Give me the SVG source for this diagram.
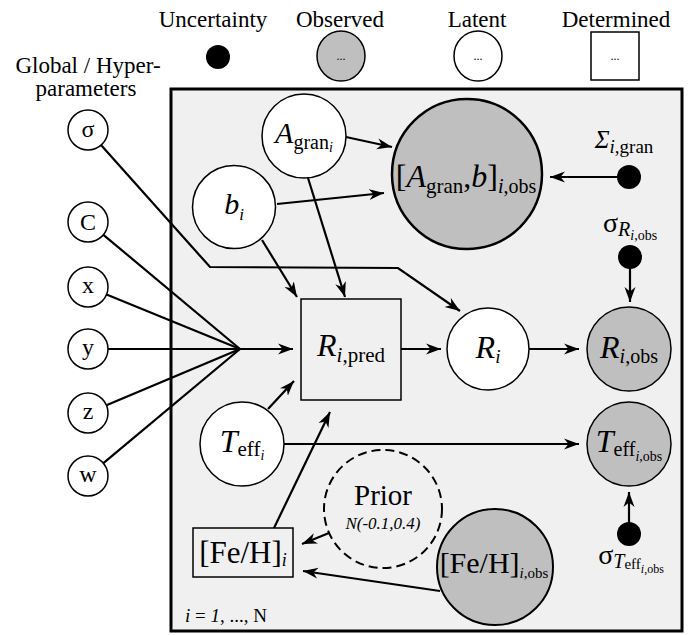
<svg xmlns="http://www.w3.org/2000/svg" width="692" height="635" viewBox="0 0 692 635" font-family="'Liberation Serif', 'DejaVu Serif', serif">
<defs>
<marker id="ah" markerUnits="userSpaceOnUse" markerWidth="16" markerHeight="12" refX="15" refY="6" orient="auto">
<path d="M0,0.5 L15,6 L0,11.5 L4.5,6 z" fill="#000"/>
</marker>
</defs>
<style>
text{font-family:'Liberation Serif','DejaVu Serif',serif;fill:#000}
.lat{fill:#fff;stroke:#000;stroke-width:1.5}
.obs{fill:#bfbfbf;stroke:#000;stroke-width:2}
.det{fill:#f0f0f0;stroke:#000;stroke-width:1.5}
.dot{fill:#000}
.c{fill:none;stroke:#000;stroke-width:2.2}
.a{marker-end:url(#ah)}
.it{font-style:italic}
.lg{font-size:23px}
.hp{font-size:24px}
</style>

<g id="legend">
<text class="lg" x="213" y="27" text-anchor="middle">Uncertainty</text>
<text class="lg" x="340" y="27" text-anchor="middle">Observed</text>
<text class="lg" x="477" y="27" text-anchor="middle">Latent</text>
<text class="lg" x="616" y="27" text-anchor="middle">Determined</text>
<circle class="dot" cx="218" cy="57" r="12"/>
<ellipse class="obs" style="stroke-width:1.5" cx="341" cy="56" rx="24" ry="25"/>
<text x="341" y="60" font-size="12" text-anchor="middle">...</text>
<ellipse class="lat" cx="478" cy="56" rx="24" ry="25"/>
<text x="478" y="60" font-size="12" text-anchor="middle">...</text>
<rect x="591" y="32" width="48" height="48" fill="#fff" stroke="#000" stroke-width="1.5"/>
<text x="615" y="60" font-size="12" text-anchor="middle">...</text>
<text class="lg" x="88" y="73" text-anchor="middle">Global / Hyper-</text>
<text class="lg" x="86" y="96" text-anchor="middle">parameters</text>
</g>

<rect id="plate" x="171" y="89" width="511" height="542" fill="#f0f0f0" stroke="#000" stroke-width="3"/>

<g id="connectors">
<polyline class="c a" points="101,145 210,267 398,268 460,311"/>
<line class="c" x1="103.4" y1="234.8" x2="240" y2="349"/>
<line class="c" x1="106.5" y1="294.6" x2="240" y2="349"/>
<line class="c" x1="108" y1="349" x2="240" y2="349"/>
<line class="c" x1="106.4" y1="405.2" x2="240" y2="349"/>
<line class="c" x1="103.4" y1="463.2" x2="240" y2="349"/>
<line class="c a" x1="240" y1="349" x2="293" y2="349"/>
<line class="c a" x1="346" y1="137" x2="392" y2="147"/>
<line class="c a" x1="277" y1="204" x2="384" y2="193"/>
<line class="c a" x1="308" y1="178" x2="345" y2="297"/>
<line class="c a" x1="262" y1="240" x2="297" y2="297"/>
<line class="c a" x1="268" y1="409" x2="294" y2="381"/>
<line class="c a" x1="274" y1="528" x2="330" y2="412"/>
<line class="c a" x1="401" y1="349" x2="441" y2="349"/>
<line class="c a" x1="529" y1="349" x2="579" y2="349"/>
<line class="c a" x1="629" y1="177" x2="550" y2="177"/>
<line class="c a" x1="630" y1="257" x2="630" y2="302"/>
<line class="c a" x1="284" y1="444" x2="579" y2="444"/>
<line class="c a" x1="629" y1="534" x2="629" y2="492"/>
<line class="c a" x1="329" y1="533" x2="302" y2="544"/>
<line class="c a" x1="440" y1="591" x2="303" y2="571"/>
</g>

<g id="n-sigma"><circle class="lat" cx="88" cy="130" r="20"/><text class="hp" x="88" y="137" text-anchor="middle">σ</text></g>
<g id="n-C"><circle class="lat" cx="88" cy="222" r="20"/><text class="hp" x="88" y="230" text-anchor="middle">C</text></g>
<g id="n-x"><circle class="lat" cx="88" cy="287" r="20"/><text class="hp" x="88" y="293" text-anchor="middle">x</text></g>
<g id="n-y"><circle class="lat" cx="88" cy="349" r="20"/><text class="hp" x="88" y="355" text-anchor="middle">y</text></g>
<g id="n-z"><circle class="lat" cx="88" cy="413" r="20"/><text class="hp" x="88" y="419" text-anchor="middle">z</text></g>
<g id="n-w"><circle class="lat" cx="88" cy="476" r="20"/><text class="hp" x="88" y="482" text-anchor="middle">w</text></g>

<g id="n-Agran">
<circle class="lat" cx="304" cy="136" r="42"/>
<text x="304" y="143" text-anchor="middle"><tspan class="it" font-size="30">A</tspan><tspan font-size="20" dy="6">gran</tspan><tspan class="it" font-size="14" dy="3">i</tspan></text>
</g>
<g id="n-b">
<circle class="lat" cx="234" cy="207" r="41.5"/>
<text x="234" y="214" text-anchor="middle"><tspan class="it" font-size="30">b</tspan><tspan class="it" font-size="17" dy="6">i</tspan></text>
</g>
<g id="n-Abobs">
<circle class="obs" style="stroke-width:2.5" cx="467" cy="174" r="75"/>
<text x="466" y="187" text-anchor="middle"><tspan font-size="32">[</tspan><tspan class="it" font-size="32">A</tspan><tspan font-size="21" dy="6">gran</tspan><tspan font-size="32" dy="-6">,</tspan><tspan class="it" font-size="32">b</tspan><tspan font-size="32">]</tspan><tspan class="it" font-size="20" dy="6">i</tspan><tspan font-size="20">,obs</tspan></text>
</g>
<g id="n-Sigma">
<circle class="dot" cx="629" cy="177" r="12"/>
<text x="624" y="148" text-anchor="middle"><tspan class="it" font-size="25">Σ</tspan><tspan class="it" font-size="19" dy="5">i</tspan><tspan font-size="19">,gran</tspan></text>
</g>
<g id="n-sigmaR">
<circle class="dot" cx="630" cy="257" r="12"/>
<text x="630" y="232" text-anchor="middle"><tspan font-size="28">σ</tspan><tspan class="it" font-size="20" dy="4">R</tspan><tspan font-size="14" dy="4"><tspan class="it">i</tspan>,obs</tspan></text>
</g>
<g id="n-Rpred">
<rect class="det" x="301" y="299" width="100" height="101"/>
<text x="351" y="356" text-anchor="middle"><tspan class="it" font-size="32">R</tspan><tspan font-size="21" dy="6"><tspan class="it">i</tspan>,pred</tspan></text>
</g>
<g id="n-R">
<circle class="lat" cx="488" cy="349" r="41"/>
<text x="488" y="358" text-anchor="middle"><tspan class="it" font-size="32">R</tspan><tspan class="it" font-size="19" dy="5">i</tspan></text>
</g>
<g id="n-Robs">
<circle class="obs" style="stroke-width:1.5" cx="629" cy="349" r="42"/>
<text x="629" y="358" text-anchor="middle"><tspan class="it" font-size="32">R</tspan><tspan font-size="20" dy="5"><tspan class="it">i</tspan>,obs</tspan></text>
</g>
<g id="n-Teff">
<circle class="lat" cx="242" cy="444" r="42"/>
<text x="242" y="452" text-anchor="middle"><tspan class="it" font-size="32">T</tspan><tspan font-size="21" dy="4">eff</tspan><tspan class="it" font-size="14" dy="4">i</tspan></text>
</g>
<g id="n-Tobs">
<circle class="obs" style="stroke-width:1.5" cx="629" cy="444" r="42"/>
<text x="629" y="452" text-anchor="middle"><tspan class="it" font-size="32">T</tspan><tspan font-size="20" dy="4">eff</tspan><tspan font-size="14" dy="5"><tspan class="it">i</tspan>,obs</tspan></text>
</g>
<g id="n-sigmaT">
<circle class="dot" cx="629" cy="534" r="12"/>
<text x="631" y="564" text-anchor="middle"><tspan font-size="28">σ</tspan><tspan class="it" font-size="20" dy="4">T</tspan><tspan font-size="15" dy="1">eff</tspan><tspan font-size="12" dy="4"><tspan class="it">i</tspan>,obs</tspan></text>
</g>
<g id="n-FeH">
<rect class="det" x="193" y="528" width="100" height="49"/>
<text x="243" y="563" text-anchor="middle"><tspan font-size="31">[Fe/H]</tspan><tspan class="it" font-size="18" dy="3">i</tspan></text>
</g>
<g id="n-Prior">
<circle cx="383" cy="509" r="59" fill="none" stroke="#000" stroke-width="2" stroke-dasharray="9 5"/>
<text x="383" y="505" font-size="29" text-anchor="middle">Prior</text>
<text class="it" x="383" y="529" font-size="17" text-anchor="middle">N(-0.1,0.4)</text>
</g>
<g id="n-FeHobs">
<circle class="obs" cx="495" cy="567" r="58"/>
<text x="494" y="573" text-anchor="middle"><tspan font-size="30">[Fe/H]</tspan><tspan font-size="15" dy="5"><tspan class="it">i</tspan>,obs</tspan></text>
</g>
<text x="185" y="622" font-size="19"><tspan class="it">i</tspan> = <tspan class="it">1</tspan>, ..., N</text>
</svg>
